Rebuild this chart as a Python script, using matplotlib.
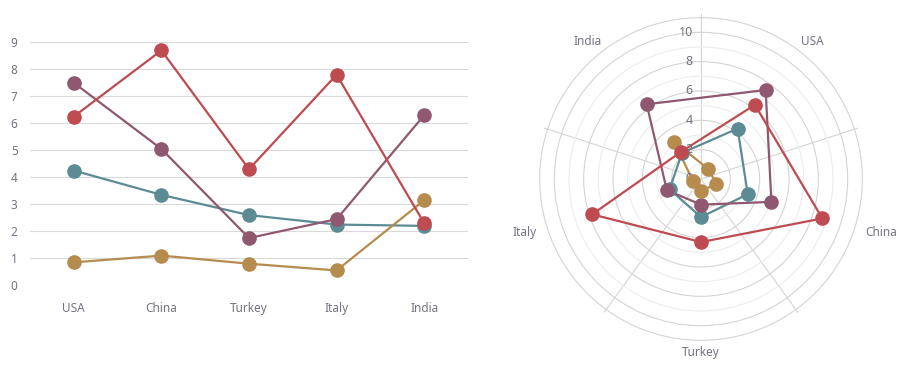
import numpy as np
import matplotlib
matplotlib.use("Agg")
import matplotlib.pyplot as plt

# data
countries = ["USA", "China", "Turkey", "Italy", "India"]
teal_vals = [4.25, 3.35, 2.6, 2.25, 2.2]
purple_vals = [7.5, 5.05, 1.75, 2.45, 6.3]
gold_vals = [0.85, 1.1, 0.8, 0.55, 3.15]
red_vals = [6.25, 8.7, 4.3, 7.8, 2.3]
y_ticks = list(range(0, 10))
r_labels = [0, 2, 4, 6, 8, 10]

series = [
    (teal_vals, "#5c8b94"),
    (purple_vals, "#8f5870"),
    (gold_vals, "#b58b4e"),
    (red_vals, "#be4b50"),
]

text_color = "#737383"
grid_color = "#d9d9d9"
plt.rcParams["font.family"] = ["Noto Sans", "DejaVu Sans"]
plt.rcParams["font.size"] = 8.5

fig = plt.figure(figsize=(9.1, 3.72), dpi=100)

# ---- left: line chart
ax = fig.add_axes([30 / 910, 1 - 285.3 / 372, 438 / 910, 243 / 372])
x = np.arange(len(countries))
for vals, col in series:
    ax.plot(x, vals, color=col, lw=1.6, marker="o", ms=9.5, clip_on=False, zorder=3)
ax.set_xlim(-0.5, len(countries) - 0.5)
ax.set_ylim(0, 9)
ax.set_yticks(y_ticks)
ax.set_xticks(x)
ax.set_xticklabels(countries)
ax.grid(True, axis="y", color=grid_color, lw=0.8)
ax.get_ygridlines()[0].set_visible(False)
for s in ax.spines.values():
    s.set_visible(False)
ax.tick_params(axis="both", length=0, colors=text_color)
ax.tick_params(axis="y", pad=9)
ax.tick_params(axis="x", pad=12)

# ---- right: polar chart
pax = fig.add_axes([536 / 910, 1 - 344 / 372, 330 / 910, 330 / 372], projection="polar")
pax.set_theta_zero_location("N")
pax.set_theta_direction(-1)
theta = np.deg2rad(36 + 72 * np.arange(len(countries)))
for vals, col in series:
    t = np.append(theta, theta[0])
    r = np.append(vals, vals[0])
    pax.plot(t, r, color=col, lw=1.6, zorder=3)
    pax.plot(theta, vals, "o", color=col, ms=9.5, zorder=4)
pax.set_ylim(0, 11.25)
pax.set_xticks(np.deg2rad([0, 72, 144, 216, 288]))
pax.set_xticklabels([])
pax.set_yticks([2, 4, 6, 8, 10, 11])
pax.set_yticklabels([])
pax.set_yticks([1, 3, 5, 7, 9], minor=True)
pax.grid(True, which="major", color="#d4d4d4", lw=0.8)
pax.yaxis.grid(True, which="minor", color="#ececec", lw=0.8)
pax.tick_params(length=0, which="both")
pax.spines["polar"].set_visible(False)

for rl in r_labels:
    pax.annotate(str(rl), xy=(0, rl), xytext=(-6, 0), textcoords="offset points",
                 ha="right", va="center", color=text_color, fontsize=9)

for th, name in zip(theta, countries):
    s = np.sin(th)
    ha = "left" if s > 0.1 else ("right" if s < -0.1 else "center")
    rr = 11.55 if np.cos(th) > 0.7 else 11.8
    pax.text(th, rr, name, ha=ha, va="center", color=text_color, fontsize=8.5)

fig.savefig("out.png", dpi=100)
